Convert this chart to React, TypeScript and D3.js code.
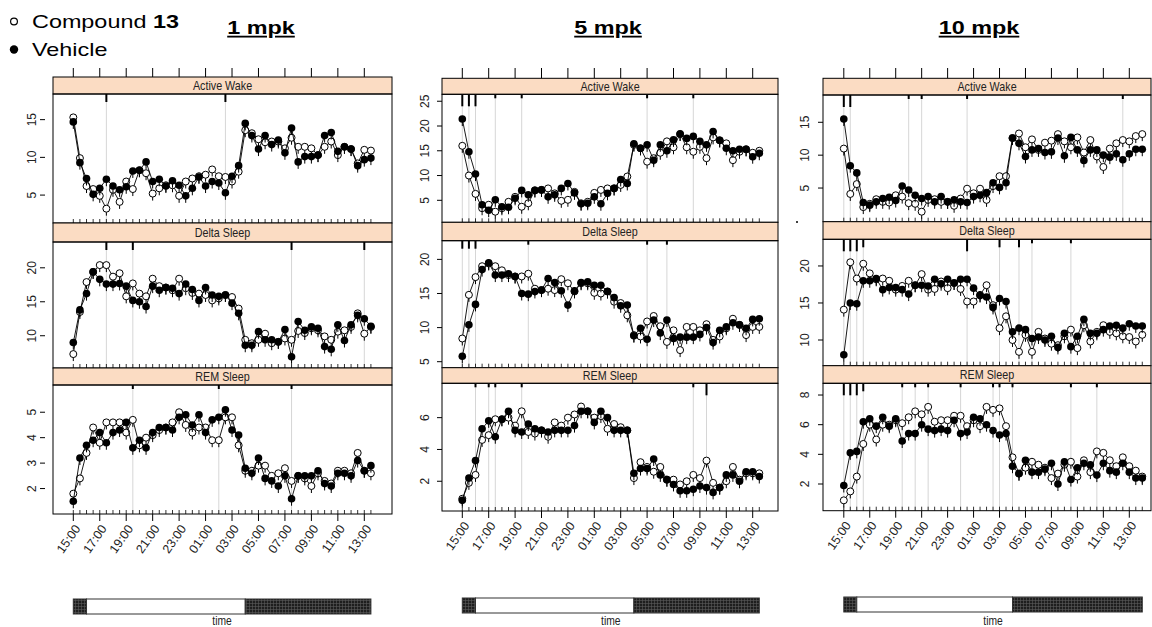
import React, { useRef, useEffect } from 'react';
import * as d3 from 'd3';

// half-hour bins, 15:00 on day 1 to 14:00 on day 2
const times = [
  '15:00', '15:30', '16:00', '16:30', '17:00', '17:30', '18:00', '18:30', '19:00', '19:30',
  '20:00', '20:30', '21:00', '21:30', '22:00', '22:30', '23:00', '23:30', '00:00', '00:30',
  '01:00', '01:30', '02:00', '02:30', '03:00', '03:30', '04:00', '04:30', '05:00', '05:30',
  '06:00', '06:30', '07:00', '07:30', '08:00', '08:30', '09:00', '09:30', '10:00', '10:30',
  '11:00', '11:30', '12:00', '12:30', '13:00', '13:30', '14:00',
];
const tickLabels = ['15:00', '17:00', '19:00', '21:00', '23:00', '01:00', '03:00', '05:00', '07:00', '09:00', '11:00', '13:00'];
const stripNames = ['Active Wake', 'Delta Sleep', 'REM Sleep'];
const doseTitles = ['1 mpk', '5 mpk', '10 mpk'];
const lightOn = '16:00';
const lightOff = '04:00';

// 1 mpk
const aw1Compound = [15.3, 9.9, 6.2, 5.8, 4.9, 3.2, 5.7, 4.1, 6.8, 5.8, 8.3, 7.9, 5.2, 5.9, 6.3, 6.3, 4.9, 6.8, 7.2, 7.5, 7.7, 8.4, 7.5, 7.4, 6.8, 8.1, 13.6, 13.2, 12.4, 12.0, 12.1, 12.1, 11.2, 12.6, 11.4, 11.4, 11.2, 10.3, 11.4, 12.1, 10.3, 11.4, 11.1, 9.2, 11.0, 10.9];
const aw1Vehicle = [14.7, 9.3, 7.2, 5.1, 5.9, 7.1, 6.2, 5.7, 6.1, 8.2, 8.3, 9.4, 6.8, 7.1, 6.2, 6.9, 6.3, 4.9, 5.9, 7.4, 6.2, 6.8, 6.6, 5.3, 7.5, 8.9, 14.5, 12.9, 11.1, 12.9, 11.7, 12.3, 10.6, 13.9, 9.4, 10.1, 10.1, 10.3, 12.9, 13.3, 10.8, 11.4, 11.1, 8.9, 9.7, 9.9];
const ds1Compound = [7.3, 13.5, 17.9, 19.4, 20.4, 20.4, 18.7, 19.2, 15.8, 17.7, 16.2, 15.8, 18.4, 17.3, 17.1, 16.7, 18.4, 17.0, 16.3, 16.2, 16.0, 15.2, 15.5, 16.0, 15.7, 14.0, 9.4, 8.9, 9.4, 10.3, 8.9, 9.1, 9.6, 9.4, 10.7, 10.4, 11.1, 10.8, 9.9, 9.4, 10.6, 10.8, 11.3, 13.3, 10.3, 11.3];
const ds1Vehicle = [9.0, 13.8, 16.2, 19.4, 18.3, 17.6, 17.6, 17.7, 17.3, 15.2, 15.0, 14.3, 17.3, 16.7, 17.1, 17.0, 16.2, 17.6, 16.8, 15.2, 17.1, 16.0, 15.8, 16.0, 14.8, 13.3, 8.6, 8.6, 10.6, 9.4, 9.4, 9.1, 10.9, 6.9, 12.1, 10.8, 11.3, 11.1, 8.4, 8.0, 11.6, 9.3, 11.6, 13.0, 12.5, 11.4];
const rem1Compound = [1.8, 2.4, 3.4, 4.4, 3.8, 4.6, 4.6, 4.6, 4.2, 4.7, 3.7, 4.0, 4.1, 4.3, 4.4, 4.6, 5.0, 4.5, 4.2, 4.4, 4.4, 3.9, 3.9, 4.8, 4.8, 3.7, 2.7, 2.7, 2.9, 2.9, 2.5, 2.6, 2.8, 2.3, 2.5, 2.4, 2.1, 2.6, 2.3, 2.2, 2.7, 2.7, 2.6, 3.4, 2.7, 2.6];
const rem1Vehicle = [1.5, 3.2, 3.7, 3.9, 4.2, 3.8, 4.2, 4.3, 4.6, 3.6, 3.9, 3.6, 4.2, 4.4, 4.4, 4.3, 4.8, 4.9, 4.5, 4.9, 4.2, 4.7, 4.8, 5.1, 4.3, 4.1, 2.8, 2.6, 3.2, 2.4, 2.3, 2.1, 2.5, 1.6, 2.5, 2.5, 2.5, 2.7, 2.2, 2.1, 2.6, 2.6, 2.5, 3.1, 2.7, 2.9];

// 5 mpk
const aw5Compound = [16.0, 10.0, 6.3, 3.4, 4.1, 2.7, 3.4, 4.7, 5.7, 3.7, 4.4, 7.0, 7.1, 7.4, 6.4, 4.9, 5.1, 6.7, 4.4, 4.7, 6.5, 7.1, 7.4, 7.4, 8.1, 9.8, 16.2, 15.5, 12.8, 13.5, 14.6, 16.9, 15.7, 18.4, 15.7, 14.8, 15.8, 13.5, 17.7, 17.1, 16.5, 13.1, 14.8, 15.3, 14.6, 15.0];
const aw5Vehicle = [21.4, 14.8, 10.3, 4.1, 3.0, 5.1, 3.7, 3.6, 5.4, 7.0, 6.1, 7.0, 7.1, 5.7, 6.1, 7.4, 8.4, 6.5, 4.3, 4.4, 5.7, 4.3, 6.4, 7.4, 9.2, 8.4, 16.4, 15.5, 16.2, 13.1, 16.2, 15.0, 17.2, 18.4, 17.5, 17.9, 16.9, 16.2, 18.9, 17.1, 15.5, 15.0, 15.3, 15.3, 13.8, 14.5];
const ds5Compound = [8.4, 14.8, 17.4, 19.0, 19.4, 19.0, 18.4, 17.7, 17.5, 17.5, 17.9, 15.7, 15.5, 15.7, 15.5, 17.1, 16.5, 15.3, 16.5, 16.5, 15.1, 15.0, 15.3, 13.8, 13.6, 11.8, 8.9, 8.7, 10.9, 11.7, 10.2, 7.9, 9.6, 6.7, 10.1, 10.1, 9.6, 10.5, 8.2, 8.7, 9.9, 11.3, 10.4, 8.9, 10.1, 10.1];
const ds5Vehicle = [5.8, 10.4, 13.4, 18.5, 19.5, 17.7, 17.7, 17.9, 17.5, 15.0, 14.9, 15.3, 15.5, 17.2, 16.6, 15.4, 13.3, 15.4, 16.6, 16.7, 16.2, 16.2, 15.3, 14.4, 13.2, 13.3, 8.8, 9.9, 8.3, 11.1, 9.2, 11.1, 8.4, 8.6, 8.6, 8.6, 9.0, 10.0, 7.8, 9.6, 10.1, 10.7, 10.4, 9.9, 11.2, 11.3];
const rem5Compound = [0.9, 1.9, 2.4, 4.6, 4.9, 5.9, 5.9, 6.0, 5.5, 6.4, 5.1, 5.0, 5.2, 4.8, 5.7, 5.5, 6.0, 6.2, 6.7, 6.4, 6.0, 6.1, 5.3, 5.6, 5.4, 5.2, 2.2, 3.2, 2.9, 2.6, 2.9, 2.1, 2.1, 1.8, 2.0, 2.4, 2.2, 3.3, 1.9, 1.6, 2.0, 2.9, 2.1, 2.5, 2.5, 2.5];
const rem5Vehicle = [0.8, 2.2, 3.3, 5.3, 5.8, 4.8, 5.9, 6.4, 5.2, 5.1, 5.6, 5.3, 5.2, 5.1, 5.2, 5.2, 5.2, 5.5, 6.4, 6.4, 5.7, 6.4, 6.0, 5.2, 5.2, 5.2, 2.5, 2.8, 2.8, 3.4, 2.4, 2.1, 1.8, 1.4, 1.4, 1.5, 1.7, 1.6, 1.3, 1.6, 2.4, 2.4, 2.0, 2.6, 2.6, 2.3];

// 10 mpk
const aw10Compound = [11.0, 4.1, 5.6, 2.1, 2.6, 3.3, 2.9, 2.8, 3.9, 3.7, 2.7, 2.6, 1.4, 3.2, 3.3, 2.9, 2.9, 2.3, 3.4, 4.9, 4.2, 4.9, 3.2, 5.3, 6.8, 6.8, 12.6, 13.3, 11.2, 12.4, 10.8, 11.9, 12.2, 13.2, 12.1, 11.2, 12.7, 10.4, 12.3, 9.8, 8.2, 11.0, 11.8, 12.3, 12.1, 12.9, 13.2];
const aw10Vehicle = [15.5, 8.4, 7.3, 2.8, 2.4, 2.9, 3.4, 3.6, 3.1, 5.3, 4.7, 3.9, 3.4, 3.7, 2.9, 3.7, 2.9, 3.2, 2.9, 2.8, 3.7, 3.9, 4.3, 5.8, 5.1, 5.8, 12.6, 11.8, 9.8, 10.8, 11.0, 10.4, 10.5, 12.6, 9.9, 12.7, 10.8, 9.2, 10.8, 10.8, 10.0, 9.7, 10.2, 9.3, 10.2, 10.9, 10.9];
const ds10Compound = [14.1, 20.5, 18.3, 20.3, 19.0, 18.2, 18.3, 18.0, 16.8, 17.3, 18.0, 17.4, 18.9, 16.8, 16.9, 17.9, 17.0, 17.7, 16.9, 15.2, 15.2, 16.1, 17.4, 14.7, 11.6, 13.2, 10.0, 8.4, 10.7, 8.4, 11.1, 10.2, 9.5, 9.3, 10.5, 11.4, 8.9, 12.0, 9.8, 11.1, 12.0, 11.1, 10.9, 10.5, 10.4, 9.8, 10.7];
const ds10Vehicle = [8.0, 15.0, 14.9, 18.0, 18.0, 18.3, 16.8, 17.1, 17.1, 16.8, 16.2, 17.4, 17.4, 17.3, 18.2, 17.6, 18.2, 17.7, 18.2, 18.2, 17.0, 16.0, 15.8, 14.4, 15.6, 15.2, 11.1, 11.6, 11.4, 10.2, 10.4, 10.0, 10.5, 9.0, 10.9, 9.1, 10.5, 12.8, 10.9, 10.9, 11.4, 11.9, 12.0, 11.6, 12.2, 11.9, 11.9];
const rem10Compound = [0.9, 1.5, 2.5, 4.7, 6.0, 5.0, 6.0, 6.0, 6.3, 6.1, 6.5, 6.9, 6.7, 7.2, 6.2, 6.3, 6.3, 6.6, 6.6, 5.9, 6.3, 5.9, 7.2, 7.0, 7.1, 5.9, 3.8, 2.7, 3.1, 3.5, 3.3, 3.1, 2.4, 2.7, 3.3, 3.5, 2.5, 3.6, 2.8, 4.2, 4.1, 3.6, 3.2, 3.8, 3.2, 2.9, 2.5];
const rem10Vehicle = [1.9, 4.1, 4.2, 6.2, 6.4, 5.9, 6.5, 5.9, 6.4, 4.9, 5.4, 5.4, 6.0, 5.7, 5.6, 5.7, 5.6, 6.3, 5.4, 5.5, 6.5, 6.4, 6.0, 5.6, 5.3, 5.4, 3.2, 2.7, 3.6, 2.8, 2.8, 3.0, 3.4, 2.0, 3.5, 2.3, 3.1, 3.4, 3.3, 2.6, 3.4, 2.9, 2.8, 3.4, 2.8, 2.4, 2.4];

// significant bins: [time, level] (level 1..3 = marker length)
const aw1Sig = [['17:30', 2], ['02:30', 2]];
const ds1Sig = [['17:30', 2], ['19:30', 2], ['07:30', 2], ['13:00', 2]];
const rem1Sig = [['19:30', 1], ['02:00', 1], ['07:30', 1]];
const aw5Sig = [['15:00', 3], ['15:30', 3], ['16:00', 3], ['17:30', 1], ['19:30', 1], ['05:00', 1], ['08:30', 1]];
const ds5Sig = [['15:00', 2], ['15:30', 2], ['16:00', 2], ['20:00', 1], ['05:00', 1], ['06:30', 1]];
const rem5Sig = [['16:00', 1], ['17:00', 1], ['17:30', 1], ['19:30', 1], ['08:30', 1], ['09:30', 3]];
const aw10Sig = [['15:00', 3], ['15:30', 3], ['20:00', 1], ['21:00', 1], ['00:30', 1], ['12:30', 1]];
const ds10Sig = [['15:00', 3], ['15:30', 3], ['16:00', 3], ['16:30', 2], ['00:30', 3], ['03:00', 2], ['04:30', 2], ['05:30', 1], ['08:30', 1]];
const rem10Sig = [['15:00', 3], ['15:30', 3], ['16:00', 3], ['16:30', 2], ['19:30', 1], ['20:30', 1], ['21:30', 1], ['00:00', 1], ['02:30', 1], ['03:00', 1], ['04:00', 1], ['08:30', 1], ['10:30', 1]];

const panels = [
  [
    { cmp: aw1Compound, veh: aw1Vehicle, sig: aw1Sig, yDomain: [1.3, 18.4], yTicks: [5, 10, 15] },
    { cmp: ds1Compound, veh: ds1Vehicle, sig: ds1Sig, yDomain: [5.25, 23.8], yTicks: [10, 15, 20] },
    { cmp: rem1Compound, veh: rem1Vehicle, sig: rem1Sig, yDomain: [1.0, 6.07], yTicks: [2, 3, 4, 5] },
  ],
  [
    { cmp: aw5Compound, veh: aw5Vehicle, sig: aw5Sig, yDomain: [0.56, 26.4], yTicks: [5, 10, 15, 20, 25] },
    { cmp: ds5Compound, veh: ds5Vehicle, sig: ds5Sig, yDomain: [4.12, 22.74], yTicks: [5, 10, 15, 20] },
    { cmp: rem5Compound, veh: rem5Vehicle, sig: rem5Sig, yDomain: [0.13, 8.16], yTicks: [2, 4, 6] },
  ],
  [
    { cmp: aw10Compound, veh: aw10Vehicle, sig: aw10Sig, yDomain: [-0.12, 19.15], yTicks: [5, 10, 15] },
    { cmp: ds10Compound, veh: ds10Vehicle, sig: ds10Sig, yDomain: [6.53, 23.6], yTicks: [10, 15, 20] },
    { cmp: rem10Compound, veh: rem10Vehicle, sig: rem10Sig, yDomain: [0.2, 8.79], yTicks: [2, 4, 6, 8] },
  ],
];

// page layout of the three lattice figures (pixels)
const layout = [
  { titleX: 261, left: 53, right: 392, xStart: 73.3, xEnd: 364.3, labelGap: 21, tickGap: 8, barY: 599,
    rows: [[77, 94, 223], [223, 242, 368], [368, 385, 514]] },
  { titleX: 608, left: 442, right: 778, xStart: 462.3, xEnd: 752.7, labelGap: 17, tickGap: 0, barY: 598,
    rows: [[78.3, 94.3, 222.3], [222.3, 240.7, 367.7], [367.7, 383.3, 511]] },
  { titleX: 979, left: 823, right: 1151, xStart: 843.8, xEnd: 1129.3, labelGap: 18, tickGap: 0, barY: 597,
    rows: [[78.3, 95, 221.7], [221.7, 239.3, 365.7], [365.7, 383.3, 510.7]] },
];

const FONT = 'Liberation Sans, Arial, sans-serif';
const sigLen = [0, 4, 8, 12];
const WIDE = 1.3; // the pasted figure text is stretched horizontally
const NARROW = 0.86;

function App() {
  const svgRef = useRef<SVGSVGElement>(null);

  useEffect(() => {
    const svg = d3.select(svgRef.current);
    svg.selectAll('*').remove();

    const defs = svg.append('defs');
    const pat = defs.append('pattern').attr('id', 'darkPhase')
      .attr('width', 3).attr('height', 3).attr('patternUnits', 'userSpaceOnUse');
    pat.append('rect').attr('width', 3).attr('height', 3).attr('fill', '#1e1e1e');
    pat.append('path').attr('d', 'M0,0.5H3M0.5,0V3').attr('stroke', '#5a5a5a').attr('stroke-width', 0.6);

    // legend
    const leg = svg.append('g').attr('font-family', FONT).attr('font-size', 18);
    leg.append('circle').attr('cx', 14).attr('cy', 21.5).attr('r', 3.4)
      .attr('fill', '#fff').attr('stroke', '#000').attr('stroke-width', 1.2);
    const t1 = leg.append('text').attr('transform', `translate(32,28) scale(${WIDE},1)`);
    t1.append('tspan').text('Compound ');
    t1.append('tspan').attr('font-weight', 'bold').text('13');
    leg.append('circle').attr('cx', 14).attr('cy', 49.5).attr('r', 4.2).attr('fill', '#000');
    leg.append('text').attr('transform', `translate(32,56) scale(${WIDE},1)`).text('Vehicle');

    layout.forEach((L, c) => {
      const g = svg.append('g');
      const n = panels[c][0].veh.length;
      const x = d3.scaleLinear().domain([0, 44]).range([L.xStart, L.xEnd]);
      const idx = (t: string) => times.indexOf(t);

      g.append('text').attr('transform', `translate(${L.titleX},34) scale(${WIDE},1)`)
        .attr('text-anchor', 'middle')
        .attr('font-family', FONT).attr('font-size', 18).attr('font-weight', 'bold')
        .attr('text-decoration', 'underline').text(doseTitles[c]);

      // top axis ticks
      g.selectAll('.ttick').data(tickLabels).join('line')
        .attr('x1', (d) => x(idx(d))).attr('x2', (d) => x(idx(d)))
        .attr('y1', 68).attr('y2', L.rows[0][0])
        .attr('stroke', '#000').attr('stroke-width', 1);

      panels[c].forEach((P, r) => {
        const [sTop, pTop, pBot] = L.rows[r];
        const y = d3.scaleLinear().domain(P.yDomain).range([pBot, pTop]);
        const pg = g.append('g');

        // strip
        pg.append('rect').attr('x', L.left).attr('y', sTop).attr('width', L.right - L.left)
          .attr('height', pTop - sTop).attr('fill', '#fbdcc3').attr('stroke', '#000').attr('stroke-width', 1);
        pg.append('text')
          .attr('transform', `translate(${(L.left + L.right) / 2},${(sTop + pTop) / 2 + 4.5}) scale(${NARROW},1)`)
          .attr('text-anchor', 'middle').attr('font-family', FONT).attr('font-size', 12.5)
          .attr('fill', '#222').text(stripNames[r]);

        // significance markers
        const sig = pg.append('g');
        sig.selectAll('line.g').data(P.sig).join('line')
          .attr('x1', (d) => x(idx(d[0] as string))).attr('x2', (d) => x(idx(d[0] as string)))
          .attr('y1', pTop).attr('y2', pBot).attr('stroke', '#d6d6d6').attr('stroke-width', 1);
        sig.selectAll('line.k').data(P.sig).join('line')
          .attr('x1', (d) => x(idx(d[0] as string))).attr('x2', (d) => x(idx(d[0] as string)))
          .attr('y1', pTop).attr('y2', (d) => pTop + sigLen[d[1] as number])
          .attr('stroke', '#000').attr('stroke-width', 2);

        // minor ticks, one per bin
        pg.selectAll('line.minor').data(times.slice(0, n)).join('line')
          .attr('x1', (_, i) => x(i)).attr('x2', (_, i) => x(i))
          .attr('y1', pBot - 4).attr('y2', pBot).attr('stroke', '#000').attr('stroke-width', 0.8);

        // y axis
        pg.selectAll('line.ytick').data(P.yTicks).join('line')
          .attr('x1', L.left - L.tickGap - 5).attr('x2', L.left - L.tickGap)
          .attr('y1', (d) => y(d)).attr('y2', (d) => y(d))
          .attr('stroke', '#000');
        pg.selectAll('text.ylab').data(P.yTicks).join('text')
          .attr('transform', (d) => `translate(${L.left - L.labelGap},${y(d)}) rotate(-90)`)
          .attr('text-anchor', 'middle').attr('dy', '0.35em')
          .attr('font-family', FONT).attr('font-size', 12).attr('fill', '#222').text((d) => d);

        const line = d3.line<number>().x((_, i) => x(i)).y((d) => y(d));
        const drawSeries = (vals: number[], filled: boolean) => {
          const sg = pg.append('g');
          sg.append('path').attr('d', line(vals)).attr('fill', 'none').attr('stroke', '#000').attr('stroke-width', 0.9);
          sg.selectAll('line.err').data(vals).join('line')
            .attr('x1', (_, i) => x(i)).attr('x2', (_, i) => x(i))
            .attr('y1', (d) => y(d)).attr('y2', (d) => y(d) + 7)
            .attr('stroke', '#000').attr('stroke-width', 1);
          sg.selectAll('circle').data(vals).join('circle')
            .attr('cx', (_, i) => x(i)).attr('cy', (d) => y(d))
            .attr('r', filled ? 3.8 : 3.5)
            .attr('fill', filled ? '#000' : '#fff')
            .attr('stroke', '#000').attr('stroke-width', filled ? 0 : 1);
        };
        drawSeries(P.cmp, false);
        drawSeries(P.veh, true);

        // panel border
        pg.append('rect').attr('x', L.left).attr('y', pTop).attr('width', L.right - L.left)
          .attr('height', pBot - pTop).attr('fill', 'none').attr('stroke', '#000').attr('stroke-width', 1);

        if (r === 2) {
          pg.selectAll('line.btick').data(tickLabels).join('line')
            .attr('x1', (d) => x(idx(d))).attr('x2', (d) => x(idx(d)))
            .attr('y1', pBot).attr('y2', pBot + 7).attr('stroke', '#000');
          pg.selectAll('text.xlab').data(tickLabels).join('text')
            .attr('transform', (d) => `translate(${x(idx(d)) + 4},${pBot + 12}) rotate(-55)`)
            .attr('text-anchor', 'end').attr('dy', '0.35em')
            .attr('font-family', FONT).attr('font-size', 12.5).attr('fill', '#222').text((d) => d);
        }
      });

      // light/dark bar
      const phases = [
        { from: 0, to: idx(lightOn), dark: true },
        { from: idx(lightOn), to: idx(lightOff), dark: false },
        { from: idx(lightOff), to: n - 1, dark: true },
      ];
      g.selectAll('rect.phase').data(phases).join('rect')
        .attr('x', (d) => x(d.from)).attr('width', (d) => x(d.to) - x(d.from))
        .attr('y', L.barY).attr('height', 15)
        .attr('fill', (d) => (d.dark ? 'url(#darkPhase)' : '#fff'))
        .attr('stroke', '#333').attr('stroke-width', 1);
      g.append('text')
        .attr('transform', `translate(${(x(0) + x(n - 1)) / 2},624.5) scale(${NARROW},1)`)
        .attr('text-anchor', 'middle').attr('font-family', FONT).attr('font-size', 12)
        .attr('fill', '#222').text('time');
    });

    // stray dot present in the original figure
    svg.append('circle').attr('cx', 797).attr('cy', 222).attr('r', 1).attr('fill', '#000');
  }, []);

  return (
    <svg ref={svgRef} width={1152} height={627}
      style={{ position: 'absolute', left: 0, top: 0, background: '#fff' }} />
  );
}

export default App;
